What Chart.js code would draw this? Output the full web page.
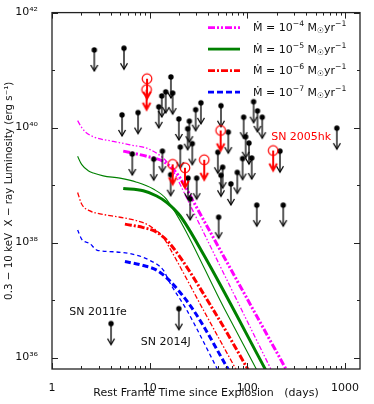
<!DOCTYPE html>
<html>
<head>
<meta charset="utf-8">
<script src="https://cdn.jsdelivr.net/npm/chart.js@4.4.0/dist/chart.umd.min.js"></script>
<style>
    html, body { margin: 0; padding: 0; background: #fff; }
</style>
</head>
<body>
<canvas id="myChart" width="374" height="404"></canvas>
<script>
// model curves: days since explosion and log10 of luminosity (erg/s)
const m4ThinDays = [1.83, 1.98, 2.18, 2.65, 4.24, 6.3, 10, 14.9, 18, 24.8, 87.4, 180];
const m4ThinLogL = [40.12, 40.02, 39.93, 39.84, 39.76, 39.7, 39.62, 39.41, 39.2, 38.72, 36.83, 35.75];
const m4ThickDays = [5.36, 9.3, 13.8, 18, 22, 27.9, 115, 258];
const m4ThickLogL = [39.59, 39.5, 39.41, 39.25, 39.04, 38.72, 36.83, 35.75];

const m5ThinDays = [1.83, 2.01, 2.35, 2.65, 3.35, 4.96, 7.37, 10.9, 14.9, 59, 128];
const m5ThinLogL = [39.5, 39.36, 39.25, 39.21, 39.16, 39.12, 39.05, 38.93, 38.75, 36.83, 35.75];
const m5ThickDays = [5.36, 8.6, 11.8, 14.9, 20.4, 35.4, 158];
const m5ThickLogL = [38.94, 38.9, 38.81, 38.7, 38.47, 37.8, 35.75];

const m6ThinDays = [1.83, 2.01, 2.45, 3.1, 4.96, 7.37, 10, 13.8, 16.1, 35.4, 79];
const m6ThinLogL = [38.87, 38.67, 38.55, 38.5, 38.44, 38.38, 38.29, 38.09, 37.9, 36.83, 35.75];
const m6ThickDays = [5.58, 8.6, 11.8, 16.1, 44.8, 105];
const m6ThickLogL = [38.32, 38.26, 38.18, 37.98, 36.83, 35.75];

const m7ThinDays = [1.83, 2.01, 2.45, 2.87, 4.24, 7.37, 10, 13.8, 16.1, 23.9, 51];
const m7ThinLogL = [38.22, 38.06, 37.98, 37.87, 37.84, 37.78, 37.69, 37.52, 37.3, 36.83, 35.75];
const m7ThickDays = [5.58, 8.6, 11.8, 15.5, 27.9, 66];
const m7ThickLogL = [37.67, 37.6, 37.52, 37.36, 36.83, 35.75];

// upper limits
const limitDays = [2.71, 5.46, 16.5, 17.2, 14.6, 13.3, 12.4, 5.21, 7.6, 19.9, 25.5, 24.5, 29.6, 33.5,
    6.64, 11, 13.5, 20.6, 27.3, 16.4, 24.7, 30.3, 26, 53.7, 63.8, 49.9, 55.9, 53.7, 67.9, 78.9,
    89.5, 111, 91.7, 96.1, 104, 116, 127, 142, 216, 125, 233, 50.9, 826, 4.02, 19.9];
const limitLogL = [41.35, 41.38, 40.88, 40.6, 40.62, 40.55, 40.36, 40.22, 40.26, 40.15, 40.11, 39.98, 40.31, 40.43,
    39.54, 39.45, 39.59, 39.66, 39.72, 39.18, 39.12, 39.12, 38.76, 40.38, 39.92, 39.57, 39.31, 39.17, 39.02, 39.22,
    39.46, 39.47, 40.18, 39.84, 39.73, 40.45, 40.29, 40.18, 39.59, 38.65, 38.65, 38.44, 39.99, 36.59, 36.85];

// SN Iax upper limits (red)
const iaxDays = [9.4, 9.3, 17.2, 23, 36.2, 53.3, 184];
const iaxLogL = [40.85, 40.66, 39.36, 39.3, 39.44, 39.95, 39.6];

const xMajorTicks = [1, 10, 100, 1000];
const xTickLabels = ["1", "10", "100", "1000"];
const xMinorTicks = [2, 3, 4, 5, 6, 7, 8, 9, 20, 30, 40, 50, 60, 70, 80, 90, 200, 300, 400, 500, 600, 700, 800, 900];
const yMajorTicks = [1e36, 1e38, 1e40, 1e42];
const yTickLabels = ["10³⁶", "10³⁸", "10⁴⁰", "10⁴²"];
const yMinorTicks = [1e37, 1e39, 1e41];

const legendLabels = ["−4", "−5", "−6", "−7"];

const FONT = '"DejaVu Sans", sans-serif';
const INK = "#111";

const MAGENTA = "#ff00ff";
const GREEN = "#008000";
const RED = "#ff0000";
const BLUE = "#0000ff";

const styles = [
    { color: MAGENTA, thin: [5, 2, 1.5, 2, 1.5, 2], thick: [7, 2, 2, 2, 2, 2] },
    { color: GREEN, thin: [], thick: [] },
    { color: RED, thin: [5, 2, 1.5, 2], thick: [7, 2, 2, 2] },
    { color: BLUE, thin: [4, 3], thick: [6, 3] },
];

function curve(days, logL, color, width, dash) {
    return {
        type: "line",
        data: days.map((d, i) => ({ x: d, y: 10 ** logL[i] })),
        borderColor: color,
        borderWidth: width,
        borderDash: dash,
        pointRadius: 0,
        fill: false,
        cubicInterpolationMode: "monotone",
        clip: 0,
        order: 2,
    };
}

function makeArrow(color, open) {
    const c = document.createElement("canvas");
    c.width = 16;
    c.height = 56;
    const g = c.getContext("2d");
    const cx = 8;
    const cy = 28;
    g.strokeStyle = color;
    g.fillStyle = color;
    if (!open) {
        g.lineWidth = 1.3;
        g.beginPath();
        g.moveTo(cx, cy);
        g.lineTo(cx, cy + 21);
        g.stroke();
        g.beginPath();
        g.moveTo(cx - 3.5, cy + 15);
        g.lineTo(cx, cy + 21);
        g.lineTo(cx + 3.5, cy + 15);
        g.stroke();
        g.beginPath();
        g.arc(cx, cy, 2.7, 0, Math.PI * 2);
        g.fill();
    } else {
        g.lineWidth = 2;
        g.beginPath();
        g.moveTo(cx, cy);
        g.lineTo(cx, cy + 20);
        g.stroke();
        g.beginPath();
        g.moveTo(cx - 3.8, cy + 13);
        g.lineTo(cx, cy + 20);
        g.lineTo(cx + 3.8, cy + 13);
        g.stroke();
        g.lineWidth = 1.2;
        g.beginPath();
        g.arc(cx, cy, 4.8, 0, Math.PI * 2);
        g.stroke();
    }
    return c;
}

function drawRich(ctx, parts, x, y, size) {
    parts.forEach((p) => {
        const s = p.sup || p.sub ? size * 0.7 : size;
        ctx.font = `${s}px ${FONT}`;
        const dy = p.sup ? -size * 0.4 : p.sub ? size * 0.25 : 0;
        ctx.fillText(p.t, x, y + dy);
        x += ctx.measureText(p.t).width;
    });
}

// inward tick marks on all four sides plus the box
const frameTicks = {
    id: "frameTicks",
    afterDraw(chart) {
        const { ctx, chartArea: a, scales } = chart;
        ctx.save();
        ctx.strokeStyle = "#222";
        ctx.lineWidth = 1;
        scales.x.ticks.forEach((t) => {
            const px = Math.round(scales.x.getPixelForValue(t.value)) + 0.5;
            const len = t.label ? 6 : 3;
            ctx.beginPath();
            ctx.moveTo(px, a.bottom);
            ctx.lineTo(px, a.bottom - len);
            ctx.moveTo(px, a.top);
            ctx.lineTo(px, a.top + len);
            ctx.stroke();
        });
        scales.y.ticks.forEach((t) => {
            const py = Math.round(scales.y.getPixelForValue(t.value)) + 0.5;
            const len = t.label ? 6 : 3;
            ctx.beginPath();
            ctx.moveTo(a.left, py);
            ctx.lineTo(a.left + len, py);
            ctx.moveTo(a.right, py);
            ctx.lineTo(a.right - len, py);
            ctx.stroke();
        });
        ctx.lineWidth = 1.3;
        ctx.strokeRect(a.left, a.top, a.right - a.left, a.bottom - a.top);
        ctx.restore();
    },
};

// legend in the upper right corner and SN labels
const notes = [
    { text: "SN 2011fe", color: INK, day: 4.02, logL: 36.59, dx: -13, dy: -11 },
    { text: "SN 2014J", color: INK, day: 19.9, logL: 36.85, dx: -13, dy: 33 },
    { text: "SN 2005hk", color: RED, day: 184, logL: 39.6, dx: 28, dy: -13 },
];

const legendAndNotes = {
    id: "legendAndNotes",
    afterDatasetsDraw(chart) {
        const { ctx, chartArea: a, scales } = chart;
        ctx.save();
        styles.forEach((s, i) => {
            const y = a.top + 15 + i * 21.5;
            ctx.strokeStyle = s.color;
            ctx.lineWidth = 2.8;
            ctx.setLineDash(s.thick);
            ctx.beginPath();
            ctx.moveTo(a.right - 152, y);
            ctx.lineTo(a.right - 120, y);
            ctx.stroke();
            ctx.setLineDash([]);
            ctx.fillStyle = INK;
            ctx.textAlign = "left";
            ctx.textBaseline = "middle";
            drawRich(ctx, [
                { t: "Ṁ = 10" },
                { t: legendLabels[i], sup: true },
                { t: " M" },
                { t: "☉", sub: true },
                { t: "yr" },
                { t: "−1", sup: true },
            ], a.right - 107, y + 1, 11);
        });
        ctx.font = `11px ${FONT}`;
        ctx.textAlign = "center";
        ctx.textBaseline = "middle";
        notes.forEach((n) => {
            const px = scales.x.getPixelForValue(n.day) + n.dx;
            const py = scales.y.getPixelForValue(10 ** n.logL) + n.dy;
            ctx.fillStyle = n.color;
            ctx.fillText(n.text, px, py);
        });
        ctx.restore();
    },
};

const lines = [
    curve(m4ThinDays, m4ThinLogL, MAGENTA, 1.3, styles[0].thin),
    curve(m4ThickDays, m4ThickLogL, MAGENTA, 3, styles[0].thick),
    curve(m5ThinDays, m5ThinLogL, GREEN, 1.1, []),
    curve(m5ThickDays, m5ThickLogL, GREEN, 3, []),
    curve(m6ThinDays, m6ThinLogL, RED, 1.3, styles[2].thin),
    curve(m6ThickDays, m6ThickLogL, RED, 3, styles[2].thick),
    curve(m7ThinDays, m7ThinLogL, BLUE, 1.3, styles[3].thin),
    curve(m7ThickDays, m7ThickLogL, BLUE, 3, styles[3].thick),
];

const ctx = document.querySelector("#myChart");

const myChart = new Chart(ctx, {
    type: "scatter",
    data: {
        datasets: [
            ...lines,
            {
                data: limitDays.map((d, i) => ({ x: d, y: 10 ** limitLogL[i] })),
                pointStyle: makeArrow("#000", false),
                pointRadius: 3,
                clip: false,
                order: 1,
            },
            {
                data: iaxDays.map((d, i) => ({ x: d, y: 10 ** iaxLogL[i] })),
                pointStyle: makeArrow(RED, true),
                pointRadius: 5,
                clip: false,
                order: 0,
            },
        ],
    },
    options: {
        responsive: false,
        animation: false,
        events: [],
        layout: { padding: { top: 10, right: 14, left: 0, bottom: 0 } },
        plugins: { legend: { display: false }, tooltip: { enabled: false } },
        scales: {
            x: {
                type: "logarithmic",
                min: 1,
                max: 1425,
                afterBuildTicks: (s) => {
                    s.ticks = [...xMajorTicks, ...xMinorTicks].sort((a, b) => a - b).map((v) => ({ value: v }));
                },
                afterFit: (s) => {
                    s.height = 35;
                },
                grid: { display: false },
                border: { display: false },
                ticks: {
                    autoSkip: false,
                    maxRotation: 0,
                    padding: 5,
                    color: INK,
                    font: { family: FONT, size: 11 },
                    callback: (v) => {
                        const k = xMajorTicks.indexOf(v);
                        return k >= 0 ? xTickLabels[k] : "";
                    },
                },
                title: {
                    display: true,
                    text: "Rest Frame Time since Explosion   (days)",
                    color: INK,
                    font: { family: FONT, size: 11 },
                    padding: { top: 0, bottom: 4 },
                },
            },
            y: {
                type: "logarithmic",
                min: 10 ** 35.8,
                max: 1e42,
                afterBuildTicks: (s) => {
                    s.ticks = [...yMajorTicks, ...yMinorTicks].sort((a, b) => a - b).map((v) => ({ value: v }));
                },
                afterFit: (s) => {
                    s.width = 52;
                },
                grid: { display: false },
                border: { display: false },
                ticks: {
                    autoSkip: false,
                    padding: 6,
                    color: INK,
                    font: { family: FONT, size: 11 },
                    callback: (v) => {
                        const k = yMajorTicks.indexOf(v);
                        return k >= 0 ? yTickLabels[k] : "";
                    },
                },
                title: {
                    display: true,
                    text: "0.3 − 10 keV  X − ray Luminosity (erg s⁻¹)",
                    color: INK,
                    font: { family: FONT, size: 10.3 },
                    padding: { top: 3, bottom: 0 },
                },
            },
        },
    },
    plugins: [frameTicks, legendAndNotes],
});
</script>
</body>
</html>
